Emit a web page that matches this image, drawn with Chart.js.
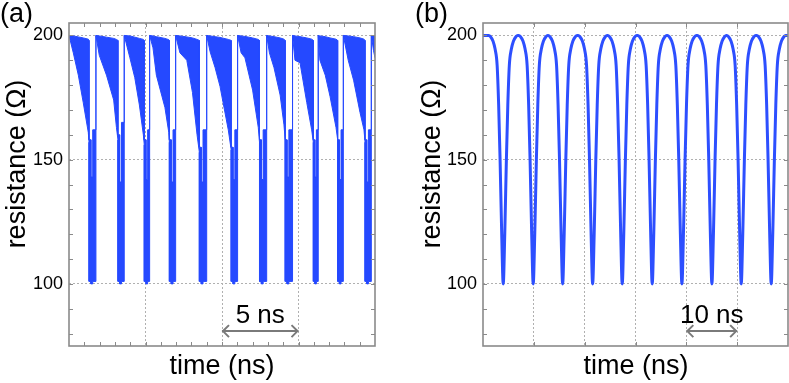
<!DOCTYPE html>
<html>
<head>
<meta charset="utf-8">
<script src="https://cdn.jsdelivr.net/npm/chart.js@4.4.0/dist/chart.umd.min.js"></script>
<style>
  html, body { margin: 0; padding: 0; background: #fff; }
  body { width: 789px; height: 383px; position: relative; overflow: hidden;
         font-family: 'Liberation Sans', Arial, Helvetica, sans-serif; color: #000; }
  .panel { position: absolute; top: 0; height: 383px; }
  #wrapA { left: 0; width: 395px; }
  #wrapB { left: 395px; width: 394px; }
  .txt { position: absolute; font-size: 27px; line-height: 27px; white-space: nowrap; }
  .ytitle { transform: translate(-50%, -50%) rotate(-90deg); }
  .xtitle { transform: translateX(-50%); }
</style>
</head>
<body>
<div class="panel" id="wrapA"><canvas id="chartA" width="395" height="383"></canvas></div>
<div class="panel" id="wrapB"><canvas id="chartB" width="394" height="383"></canvas></div>

<div class="txt" style="left:0;top:0">(a)</div>
<div class="txt" style="left:415px;top:0">(b)</div>
<div class="txt ytitle" style="left:16px;top:164px">resistance (Ω)</div>
<div class="txt ytitle" style="left:431px;top:164px">resistance (Ω)</div>
<div class="txt xtitle" style="left:222px;top:352px">time (ns)</div>
<div class="txt xtitle" style="left:636px;top:352px">time (ns)</div>

<script>
// ---- panel (a): envelope of the fast oscillation, one line per cycle ----
const aTime = [
  0, 0.28, 0.61, 0.93, 1.26, 1.31, 1.31, 1.43, 1.43, 1.55, 1.55, 1.76,
  1.76, 1.98, 2.45, 2.92, 3.10, 3.20, 3.20, 3.31, 3.31, 3.43, 3.43, 3.61,
  3.61, 3.98, 4.30, 4.60, 4.86, 4.92, 4.92, 5.03, 5.03, 5.14, 5.14, 5.27,
  5.27, 5.49, 5.71, 6.27, 6.52, 6.56, 6.56, 6.68, 6.68, 6.80, 6.80, 6.97,
  6.97, 7.25, 7.70, 8.07, 8.37, 8.52, 8.52, 8.64, 8.64, 8.76, 8.76, 9.00,
  9.00, 9.22, 9.55, 9.87, 10.41, 10.60, 10.60, 10.72, 10.72, 10.84, 10.84, 11.02,
  11.02, 11.25, 11.50, 12.00, 12.37, 12.45, 12.45, 12.57, 12.57, 12.69, 12.69, 12.92,
  12.92, 13.10, 13.40, 13.80, 14.05, 14.13, 14.13, 14.25, 14.25, 14.37, 14.37, 14.61,
  14.61, 14.77, 15.10, 15.54, 15.86, 15.97, 15.97, 16.07, 16.07, 16.17, 16.17, 16.29,
  16.29, 16.40, 16.75, 17.06, 17.45, 17.56, 17.56, 17.67, 17.67, 17.78, 17.78, 17.93,
  17.93, 18.25, 18.60, 19.02, 19.28, 19.35, 19.35, 19.46, 19.46, 19.57, 19.57, 19.76,
  19.76, 19.90, 20.00
];
const aUpper = [
  200, 199.8, 199.4, 199, 198.5, 198, 158, 158, 143, 143, 162, 162,
  200, 199.8, 199.3, 198.8, 198.4, 198, 160, 160, 141, 141, 165, 165,
  200, 199.8, 199.3, 198.8, 198.4, 198, 158, 158, 142, 142, 162, 162,
  200, 199.8, 199.5, 198.8, 198.3, 198, 158, 158, 141, 141, 162, 162,
  200, 199.8, 199.4, 199, 198.4, 198, 155, 155, 141, 141, 162, 162,
  200, 199.8, 199.5, 199.2, 198.4, 198, 155, 155, 142, 142, 162, 162,
  200, 199.8, 199.6, 199, 198.4, 198, 158, 158, 142, 142, 162, 162,
  200, 199.8, 199.5, 199, 198.5, 198, 158, 158, 143, 143, 162, 162,
  200, 199.8, 199.5, 199, 198.5, 198, 158, 158, 143, 143, 162, 162,
  200, 199.8, 199.5, 199, 198.5, 198, 158, 158, 142, 142, 162, 162,
  200, 199.8, 199.5, 199, 198.5, 198, 158, 158, 141, 141, 162, 162,
  200, 199.8, 199.7
];
const aLower = [
  200, 193, 184, 173, 161, 157, 101, 101, 100, 100, 101, 101,
  200, 192, 184, 174, 163, 158, 101, 101, 100, 100, 101, 101,
  200, 191, 183, 172, 160, 156, 101, 101, 100, 100, 101, 101,
  200, 195, 184, 171, 161, 157, 101, 101, 100, 100, 101, 101,
  200, 193, 190, 177, 160, 153, 101, 101, 100, 100, 101, 101,
  200, 193.5, 187, 179.5, 162, 154, 101, 101, 100, 100, 101, 101,
  200, 193, 191, 178, 163, 157, 101, 101, 100, 100, 101, 101,
  200, 193, 187, 176, 164, 158, 101, 101, 100, 100, 101, 101,
  200, 190, 189, 173, 162, 157, 101, 101, 100, 100, 101, 101,
  200, 190, 184, 175.5, 163, 158, 101, 101, 100, 100, 101, 101,
  200, 190, 182, 169, 162, 157, 101, 101, 100, 100, 101, 101,
  200, 194, 191
];

// ---- panel (b): dip centres and the shape of one dip ----
const bDipCentre = [3.98, 9.88, 15.67, 21.57, 27.39, 33.29, 39.13, 45.03, 50.80, 56.70];
const bDipOffset = [-2.85, -2.5, -2.0, -1.6, -1.2, -0.9, -0.62, -0.3, 0, 0.3, 0.62, 0.9, 1.2, 1.6, 2.0, 2.5, 2.85];
const bDipValue  = [200, 199.5, 197.7, 194.5, 188, 172, 150, 120, 100, 120, 150, 172, 188, 194.5, 197.7, 199.5, 200];

// ---- axes ----
const yLabels = [100, 150, 200];
const yMinor = [80, 90, 100, 110, 120, 130, 140, 150, 160, 170, 180, 190, 200];
const aGrid = [5, 10, 15];
const aMinor = [1, 2, 3, 4, 5, 6, 7, 8, 9, 10, 11, 12, 13, 14, 15, 16, 17, 18, 19];
const bGrid = [10, 20, 30, 40, 50];

const family = "'Liberation Sans', Arial, Helvetica, sans-serif";
const blue = '#2549ff';

var marks = {
    id: 'marks',
    afterDatasetsDraw: function(chart, args, o) {
        var ctx = chart.ctx, a = chart.chartArea;
        var x = chart.scales.x, y = chart.scales.y;
        ctx.save();
        ctx.strokeStyle = '#8a8a8a';
        ctx.lineWidth = 1;
        ctx.beginPath();
        o.yTicks.forEach(function(v) {
            var py = Math.round(y.getPixelForValue(v)) + 0.5;
            ctx.moveTo(a.left, py); ctx.lineTo(a.left + 4, py);
            ctx.moveTo(a.right, py); ctx.lineTo(a.right - 4, py);
        });
        o.xTicks.forEach(function(v) {
            var px = Math.round(x.getPixelForValue(v)) + 0.5;
            ctx.moveTo(px, a.top); ctx.lineTo(px, a.top + 4);
            ctx.moveTo(px, a.bottom); ctx.lineTo(px, a.bottom - 4);
        });
        ctx.stroke();
        ctx.lineWidth = 1.6;
        ctx.strokeRect(a.left, a.top, a.right - a.left, a.bottom - a.top);

        // scale bar
        var x0 = x.getPixelForValue(o.bar[0]), x1 = x.getPixelForValue(o.bar[1]);
        var yb = y.getPixelForValue(o.barY);
        ctx.strokeStyle = '#7a7a7a';
        ctx.lineWidth = 2;
        ctx.beginPath();
        ctx.moveTo(x0, yb); ctx.lineTo(x1, yb);
        ctx.moveTo(x0 + 7, yb - 6); ctx.lineTo(x0 + 1, yb); ctx.lineTo(x0 + 7, yb + 6);
        ctx.moveTo(x1 - 7, yb - 6); ctx.lineTo(x1 - 1, yb); ctx.lineTo(x1 - 7, yb + 6);
        ctx.stroke();
        ctx.fillStyle = '#000';
        ctx.font = '26px ' + family;
        ctx.textAlign = 'center';
        ctx.textBaseline = 'alphabetic';
        ctx.fillText(o.barText, (x0 + x1) / 2, y.getPixelForValue(o.textY));
        ctx.restore();
    }
};

function makeOptions(xMax, xGrid, yWidth, padRight, markOpts) {
    return {
        responsive: false,
        animation: false,
        devicePixelRatio: 1,
        layout: { padding: { left: 0, top: 23, right: padRight, bottom: 37 } },
        plugins: { legend: { display: false }, tooltip: { enabled: false }, marks: markOpts },
        scales: {
            x: {
                type: 'linear', min: 0, max: xMax,
                afterBuildTicks: function(s) { s.ticks = xGrid.map(function(v) { return { value: v }; }); },
                afterFit: function(s) { s.height = 0; },
                ticks: { display: false },
                grid: { color: '#b0b0b0', lineWidth: 1, drawTicks: false },
                border: { display: false, dash: [2, 2] }
            },
            y: {
                min: 75, max: 205,
                afterBuildTicks: function(s) { s.ticks = yLabels.map(function(v) { return { value: v }; }); },
                afterFit: function(s) { s.width = yWidth; },
                ticks: { color: '#000', padding: 6, font: { family: family, size: 18 } },
                grid: { color: '#b0b0b0', lineWidth: 1, drawTicks: false },
                border: { display: false, dash: [2, 2] }
            }
        }
    };
}

window.onload = function() {
    new Chart(document.getElementById('chartA').getContext('2d'), {
        type: 'line',
        data: {
            datasets: [
                { data: aTime.map(function(t, i) { return { x: t, y: aUpper[i] }; }),
                  borderColor: blue, borderWidth: 1, pointRadius: 0, fill: false, tension: 0 },
                { data: aTime.map(function(t, i) { return { x: t, y: aLower[i] }; }),
                  borderColor: blue, borderWidth: 1, pointRadius: 0, fill: '-1', backgroundColor: blue, tension: 0 }
            ]
        },
        options: makeOptions(20, aGrid, 69, 20,
            { yTicks: yMinor, xTicks: aMinor, bar: [10, 15], barY: 81, barText: '5 ns', textY: 84.4 }),
        plugins: [marks]
    });

    var bPoints = [{ x: 0, y: 200 }];
    bDipCentre.forEach(function(c) {
        bDipOffset.forEach(function(o, i) { bPoints.push({ x: c + o, y: bDipValue[i] }); });
    });
    bPoints.push({ x: 60, y: 200 });

    new Chart(document.getElementById('chartB').getContext('2d'), {
        type: 'line',
        data: {
            datasets: [
                { data: bPoints, borderColor: '#2d4fff', borderWidth: 3, pointRadius: 0, fill: false,
                  cubicInterpolationMode: 'monotone' }
            ]
        },
        options: makeOptions(60, bGrid, 88, 1,
            { yTicks: yMinor, xTicks: bGrid, bar: [40, 50], barY: 81, barText: '10 ns', textY: 84.4 }),
        plugins: [marks]
    });
};
</script>
</body>
</html>
